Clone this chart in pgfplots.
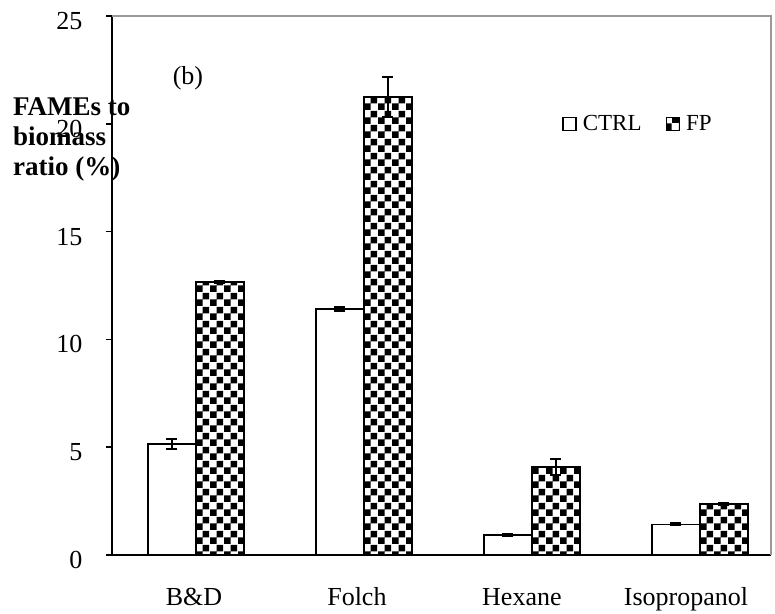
\documentclass[border=0pt]{standalone}
\usepackage{pgfplots}
\pgfplotsset{compat=1.18}
\usepackage{pgfplotstable}
\usetikzlibrary{patterns}
\usepackage{fontspec}
\setmainfont{Liberation Serif}

% 7pt checkerboard like the original figure
\pgfdeclarepatternformonly{bigchecker}{\pgfpointorigin}{\pgfqpoint{14pt}{14pt}}{\pgfqpoint{14pt}{14pt}}{
  \pgfpathrectangle{\pgfpointorigin}{\pgfqpoint{7pt}{7pt}}
  \pgfpathrectangle{\pgfqpoint{7pt}{7pt}}{\pgfqpoint{7pt}{7pt}}
  \pgfusepath{fill}}

\pgfplotstableread{
x y err
0 5.15 0.23
1 11.41 0.10
2 0.93 0.06
3 1.42 0.06
}\ctrl
\pgfplotstableread{
x y err
0 12.66 0.05
1 21.24 0.93
2 4.08 0.37
3 2.37 0.06
}\fp

\begin{document}
\begin{tikzpicture}
\begin{axis}[
    scale only axis,
    width=659pt, height=539pt,
    xmin=-0.5, xmax=3.423,
    ymin=0, ymax=25,
    ytick={0,5,10,15,20,25},
    xtick={-0.012,0.958,1.94,2.917},
    xticklabels={B\&D, Folch, Hexane, Isopropanol},
    xtick style={draw=none},
    extra x ticks={-0.5,0.5,1.5,2.5},
    extra x tick labels={},
    extra x tick style={major tick length=6pt, tick style={draw=black, line width=1.5pt}},
    axis lines*=left,
    axis line style={-, black, line width=2pt},
    tick align=outside,
    major tick length=6pt,
    ytick style={black, line width=1.5pt},
    /pgf/number format/assume math mode=true,
    tick label style={font=\fontsize{26}{30}\selectfont},
    yticklabel style={xshift=-20pt, yshift=-5pt},
    xticklabel style={yshift=-22pt, text height=19pt, text depth=6pt},
    ybar=0pt,
    bar width=48pt,
    legend columns=2,
    legend style={at={(0.683,0.80)}, anchor=west, draw=none, fill=none,
        font=\fontsize{23}{27}\selectfont, inner sep=0pt,
        /tikz/every odd column/.append style={column sep=4pt},
        /tikz/every even column/.append style={column sep=22pt}},
    legend image code/.code={\draw[#1] (0pt,-6.5pt) rectangle (13pt,6.5pt);},
    error bars/y dir=both,
    error bars/y explicit,
    error bars/error bar style={black, line width=1.5pt},
    error bars/error mark options={rotate=90, mark size=5.5pt, line width=1.5pt, black},
]
\addplot[draw=black, line width=1.5pt, fill=white]
    table[x=x, y=y, y error=err] {\ctrl};
\addlegendentry{CTRL}
\addplot[draw=black, line width=1.5pt, pattern=bigchecker]
    table[x=x, y=y, y error=err] {\fp};
\addlegendentry{FP}
\node[font=\fontsize{26}{30}\selectfont] at (axis cs:-0.048,22.1) {(b)};
\end{axis}
% top and right frame lines in gray
\draw[gray!80, line width=2pt] (0pt,539pt) -- (659pt,539pt) -- (659pt,0pt);
\node[anchor=north west, align=left, inner sep=0pt,
      font=\bfseries\fontsize{27}{30}\selectfont] at (-99pt,458pt)
      {FAMEs to\\biomass\\ratio (\%)};
\pgfresetboundingbox
\useasboundingbox (-112pt,-58pt) rectangle (663pt,555pt);
\end{tikzpicture}
\end{document}
